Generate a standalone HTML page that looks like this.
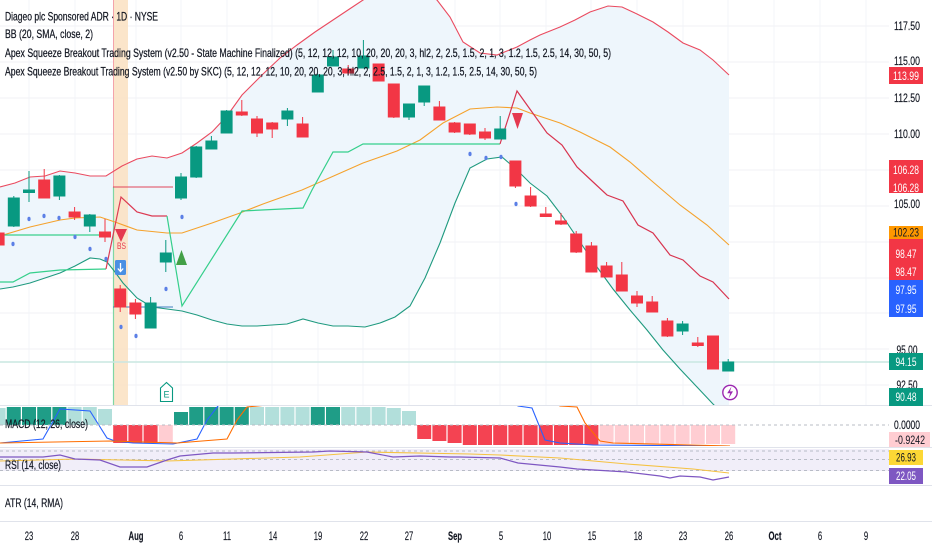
<!DOCTYPE html>
<html><head><meta charset="utf-8">
<style>
html,body{margin:0;padding:0;background:#fff;}
svg{display:block;font-family:"Liberation Sans",sans-serif;}
</style></head><body>
<svg width="932" height="550" viewBox="0 0 932 550" xmlns="http://www.w3.org/2000/svg">
<defs>
<clipPath id="main"><rect x="0" y="0" width="889" height="405"/></clipPath>
<clipPath id="macd"><rect x="0" y="406" width="889" height="40"/></clipPath>
</defs>
<rect width="932" height="550" fill="#fff"/>

<!-- grid -->
<g stroke="#f0f2f6" stroke-width="1">
<line x1="0" y1="26" x2="889" y2="26"/><line x1="0" y1="62" x2="889" y2="62"/><line x1="0" y1="98" x2="889" y2="98"/>
<line x1="0" y1="134" x2="889" y2="134"/><line x1="0" y1="170" x2="889" y2="170"/><line x1="0" y1="206" x2="889" y2="206"/>
<line x1="0" y1="242" x2="889" y2="242"/><line x1="0" y1="278" x2="889" y2="278"/><line x1="0" y1="313" x2="889" y2="313"/>
<line x1="0" y1="349" x2="889" y2="349"/><line x1="0" y1="385" x2="889" y2="385"/>
</g>
<g stroke="#f3f4f8" stroke-width="1">
<line x1="29" y1="0" x2="29" y2="405"/><line x1="75" y1="0" x2="75" y2="405"/><line x1="136" y1="0" x2="136" y2="405"/>
<line x1="181" y1="0" x2="181" y2="405"/><line x1="227" y1="0" x2="227" y2="405"/><line x1="272" y1="0" x2="272" y2="405"/>
<line x1="318" y1="0" x2="318" y2="405"/><line x1="363" y1="0" x2="363" y2="405"/><line x1="409" y1="0" x2="409" y2="405"/>
<line x1="455" y1="0" x2="455" y2="405"/><line x1="500" y1="0" x2="500" y2="405"/><line x1="546" y1="0" x2="546" y2="405"/>
<line x1="591" y1="0" x2="591" y2="405"/><line x1="637" y1="0" x2="637" y2="405"/><line x1="683" y1="0" x2="683" y2="405"/>
<line x1="728" y1="0" x2="728" y2="405"/><line x1="774" y1="0" x2="774" y2="405"/><line x1="820" y1="0" x2="820" y2="405"/>
<line x1="866" y1="0" x2="866" y2="405"/>
</g>

<g clip-path="url(#main)">
<polygon fill="#eef6fc" points="0,187 15,183 30,177 45,176 60,171 75,173 90,176 106,176 122,166 137,159 152,156 167,158 182,153 197,143 212,132 227,116 242,95 263,74 280,58 297,45 315,32 330,22 348,10 363,0 378,-8 394,-12 409,-13 424,-8 437,0 450,17 463,42 480,53 497,55 517,47 530,40 540,35 560,27 575,20 590,12 608,6 622,7 637,14 653,22 668,32 683,43 700,50 713,60 729,75 729,420 713,404 697,387 680,369 663,350 647,330 630,310 613,289 597,267 580,242 563,217 547,196 530,183 517,170 502,157 487,159 470,168 455,203 440,243 425,278 410,306 395,317 380,323 365,327 348,326 333,326 318,323 303,319 287,324 272,325 257,326 242,326 227,324 212,320 197,315 182,311 167,309 152,307 137,298 123,283 115,272 107,262 100,259 90,258 75,266 60,273 45,278 30,283 13,287 0,289"/>
<rect x="114" y="0" width="14" height="405" fill="#fbe2c4" opacity="0.9"/>
<line x1="113.5" y1="0" x2="113.5" y2="187" stroke="#f3a3ab" stroke-width="1"/>
<line x1="113.5" y1="187" x2="113.5" y2="405" stroke="#7fd6a4" stroke-width="1.2"/>

<line x1="0" y1="362" x2="889" y2="362" stroke="#c9e7e1" stroke-width="1.5"/>

<polyline fill="none" stroke="#ea4a5f" stroke-width="1.1" points="0,187 15,183 30,177 45,176 60,171 75,173 90,176 106,176 122,166 137,159 152,156 167,158 182,153 197,143 212,132 227,116 242,95 263,74 280,58 297,45 315,32 330,22 348,10 363,0 378,-8 394,-12 409,-13 424,-8 437,0 450,17 463,42 480,53 497,55 517,47 530,40 540,35 560,27 575,20 590,12 608,6 622,7 637,14 653,22 668,32 683,43 700,50 713,60 729,75"/>
<polyline fill="none" stroke="#f5a22c" stroke-width="1.1" points="0,236 30,227 60,220 75,218 100,217 115,222 137,230 167,233 182,233 212,223 240,213 263,204 302,190 363,163 397,151 420,140 443,123 470,109 497,107 517,108 530,113 560,123 580,132 610,147 630,162 653,182 680,205 707,225 729,245"/>
<polyline fill="none" stroke="#1f9a7f" stroke-width="1.1" points="0,289 13,287 30,283 45,278 60,273 75,266 90,258 100,259 107,262 115,272 123,283 137,298 152,307 167,309 182,311 197,315 212,320 227,324 242,326 257,326 272,325 287,324 303,319 318,323 333,326 348,326 365,327 380,323 395,317 410,306 425,278 440,243 455,203 470,168 487,159 502,157 517,170 530,183 547,196 563,217 580,242 597,267 613,289 630,310 647,330 663,350 680,369 697,387 713,404 729,420"/>

<line x1="3" y1="235" x2="101" y2="235" stroke="#3ad08c" stroke-width="1.2"/>
<line x1="113" y1="187" x2="173" y2="187" stroke="#e0455a" stroke-width="1.1"/>
<line x1="113" y1="307" x2="173" y2="307" stroke="#3f7fbf" stroke-width="1.1"/>
<polyline fill="none" stroke="#35cf8b" stroke-width="1.2" points="0,282 13,282 30,273 60,270 106,269"/>
<polyline fill="none" stroke="#dc3b53" stroke-width="1.2" points="106,269 121,197 137,212 152,216 167,216"/>
<polyline fill="none" stroke="#35cf8b" stroke-width="1.2" points="167,216 182,306 242,211 303,208 312,190 333,152 348,152 363,144 500,144"/>
<polyline fill="none" stroke="#d8344f" stroke-width="1.2" points="500,144 517,91 547,133 562,145 577,167 592,181 607,195 623,201 638,225 653,233 670,255 683,260 700,276 713,282 729,299"/>

<g stroke-width="1">
<g stroke="#f23645" fill="#f23645">
<line x1="-1.4" y1="230" x2="-1.4" y2="248"/><rect x="-6.9" y="233" width="11" height="12"/>
<line x1="44.2" y1="169" x2="44.2" y2="198"/><rect x="38.7" y="180" width="11" height="18"/>
<line x1="74.6" y1="207" x2="74.6" y2="220"/><rect x="69.1" y="212" width="11" height="5"/>
<line x1="105" y1="219" x2="105" y2="242"/><rect x="99.5" y="232" width="11" height="5"/>
<line x1="120.2" y1="285" x2="120.2" y2="312"/><rect x="114.7" y="289" width="11" height="18"/>
<line x1="135.4" y1="299" x2="135.4" y2="319"/><rect x="129.9" y="303" width="11" height="11"/>
<line x1="241.8" y1="100" x2="241.8" y2="116"/><rect x="236.3" y="112" width="11" height="3"/>
<line x1="257" y1="116" x2="257" y2="137"/><rect x="251.5" y="119" width="11" height="14"/>
<line x1="272.2" y1="122" x2="272.2" y2="138"/><rect x="266.7" y="123" width="11" height="6"/>
<line x1="302.6" y1="117" x2="302.6" y2="137"/><rect x="297.1" y="124" width="11" height="13"/>
<line x1="348.2" y1="65" x2="348.2" y2="75"/><rect x="342.7" y="69" width="11" height="4"/>
<line x1="378.6" y1="64" x2="378.6" y2="81"/><rect x="373.1" y="64" width="11" height="17"/>
<line x1="393.8" y1="84" x2="393.8" y2="118"/><rect x="388.3" y="84" width="11" height="33"/>
<line x1="439.4" y1="101" x2="439.4" y2="120"/><rect x="433.9" y="107" width="11" height="13"/>
<line x1="454.6" y1="122" x2="454.6" y2="133"/><rect x="449.1" y="123" width="11" height="9"/>
<line x1="469.8" y1="124" x2="469.8" y2="135"/><rect x="464.3" y="124" width="11" height="10"/>
<line x1="485" y1="128" x2="485" y2="140"/><rect x="479.5" y="132" width="11" height="6"/>
<line x1="515.4" y1="161" x2="515.4" y2="188"/><rect x="509.9" y="161" width="11" height="25"/>
<line x1="530.6" y1="187" x2="530.6" y2="207"/><rect x="525.1" y="196" width="11" height="10"/>
<line x1="545.8" y1="207" x2="545.8" y2="217"/><rect x="540.3" y="214" width="11" height="2.5"/>
<line x1="561" y1="213" x2="561" y2="225"/><rect x="555.5" y="221" width="11" height="3"/>
<line x1="576.2" y1="231" x2="576.2" y2="253"/><rect x="570.7" y="234" width="11" height="18"/>
<line x1="591.4" y1="242" x2="591.4" y2="272"/><rect x="585.9" y="246" width="11" height="26"/>
<line x1="606.6" y1="262" x2="606.6" y2="277"/><rect x="601.1" y="266" width="11" height="11"/>
<line x1="621.8" y1="262" x2="621.8" y2="291"/><rect x="616.3" y="275" width="11" height="16"/>
<line x1="637" y1="291" x2="637" y2="307"/><rect x="631.5" y="296" width="11" height="7"/>
<line x1="652.2" y1="296" x2="652.2" y2="312"/><rect x="646.7" y="302" width="11" height="10"/>
<line x1="667.4" y1="318" x2="667.4" y2="337"/><rect x="661.9" y="321" width="11" height="15"/>
<line x1="697.8" y1="337" x2="697.8" y2="347"/><rect x="692.3" y="343" width="11" height="2.5"/>
<line x1="713" y1="336" x2="713" y2="369"/><rect x="707.5" y="336" width="11" height="33"/>
</g>
<g stroke="#089981" fill="#089981">
<line x1="13.8" y1="196" x2="13.8" y2="227"/><rect x="8.3" y="198" width="11" height="28"/>
<line x1="29" y1="171" x2="29" y2="202"/><rect x="23.5" y="190" width="11" height="2.5"/>
<line x1="59.4" y1="175" x2="59.4" y2="200"/><rect x="53.9" y="176" width="11" height="20"/>
<line x1="89.8" y1="214" x2="89.8" y2="232"/><rect x="84.3" y="215" width="11" height="11"/>
<line x1="150.6" y1="297" x2="150.6" y2="328"/><rect x="145.1" y="303" width="11" height="25"/>
<line x1="165.8" y1="240" x2="165.8" y2="272"/><rect x="160.3" y="253" width="11" height="9"/>
<line x1="181" y1="173" x2="181" y2="200"/><rect x="175.5" y="177" width="11" height="21"/>
<line x1="196.2" y1="146" x2="196.2" y2="178"/><rect x="190.7" y="147" width="11" height="30"/>
<line x1="211.4" y1="136" x2="211.4" y2="149"/><rect x="205.9" y="141" width="11" height="8"/>
<line x1="226.6" y1="110" x2="226.6" y2="133"/><rect x="221.1" y="111" width="11" height="22"/>
<line x1="287.4" y1="108" x2="287.4" y2="126"/><rect x="281.9" y="111" width="11" height="8"/>
<line x1="317.8" y1="74" x2="317.8" y2="92"/><rect x="312.3" y="75" width="11" height="17"/>
<line x1="333" y1="50" x2="333" y2="66"/><rect x="327.5" y="57" width="11" height="9"/>
<line x1="363.4" y1="40" x2="363.4" y2="68"/><rect x="357.9" y="56" width="11" height="12"/>
<line x1="409" y1="104" x2="409" y2="120"/><rect x="403.5" y="104" width="11" height="13"/>
<line x1="424.2" y1="86" x2="424.2" y2="106"/><rect x="418.7" y="86" width="11" height="16"/>
<line x1="500.2" y1="116" x2="500.2" y2="139"/><rect x="494.7" y="129" width="11" height="10"/>
<line x1="682.6" y1="321" x2="682.6" y2="335"/><rect x="677.1" y="324" width="11" height="7"/>
<line x1="728.2" y1="359" x2="728.2" y2="371"/><rect x="722.7" y="362" width="11" height="9"/>
</g>
</g>

<g fill="#5b7fe6">
<ellipse cx="13" cy="244" rx="1.6" ry="2.2"/><ellipse cx="29" cy="219" rx="1.6" ry="2.2"/><ellipse cx="44" cy="216" rx="1.6" ry="2.2"/>
<ellipse cx="59" cy="218" rx="1.6" ry="2.2"/><ellipse cx="75" cy="237" rx="1.6" ry="2.2"/><ellipse cx="90" cy="249" rx="1.6" ry="2.2"/>
<ellipse cx="106" cy="259" rx="1.6" ry="2.2"/><ellipse cx="121" cy="327" rx="1.6" ry="2.2"/><ellipse cx="136" cy="336" rx="1.6" ry="2.2"/>
<ellipse cx="166" cy="289" rx="1.6" ry="2.2"/><ellipse cx="182" cy="217" rx="1.6" ry="2.2"/><ellipse cx="470" cy="154" rx="1.6" ry="2.2"/>
<ellipse cx="486" cy="158" rx="1.6" ry="2.2"/><ellipse cx="501" cy="157" rx="1.6" ry="2.2"/><ellipse cx="516" cy="204" rx="1.6" ry="2.2"/>
</g>

<polygon points="115,229 127,229 121,242" fill="#e5394f"/>
<text x="121.5" y="249" font-size="9.5" fill="#e5394f" text-anchor="middle" textLength="9" lengthAdjust="spacingAndGlyphs">BS</text>
<rect x="115" y="260" width="11" height="15" rx="1.5" fill="#4a8fe3"/>
<path d="M120.5,263 L120.5,271 M117.8,268.5 L120.5,271.5 L123.2,268.5" stroke="#fff" stroke-width="1.3" fill="none"/>
<polygon points="176,265 187,265 181.5,250" fill="#43a047"/>
<polygon points="512,113 523,113 517.5,129" fill="#e5394f"/>
<polygon points="160.5,388 166.5,382.5 172.5,388 172.5,401.5 160.5,401.5" fill="#fff" stroke="#089981" stroke-width="1.1"/>
<text x="166.5" y="397.5" font-size="9" fill="#089981" text-anchor="middle">E</text>
<circle cx="730" cy="392.5" r="7.2" fill="#fff" stroke="#9c27b0" stroke-width="1.4"/>
<path d="M731.5,386.5 L727.2,393.3 L730.2,393.3 L728.6,398.5 L733,391.4 L730,391.4 Z" fill="#9c27b0"/>
</g>

<g stroke="#e0e3eb" stroke-width="1">
<line x1="0" y1="405.5" x2="932" y2="405.5"/>
<line x1="0" y1="447.5" x2="932" y2="447.5"/>
<line x1="0" y1="485.5" x2="932" y2="485.5"/>
<line x1="0" y1="521.5" x2="932" y2="521.5"/>
</g>

<g clip-path="url(#macd)">
<g fill="#b2dfdb">
<rect x="-8.4" y="408" width="14" height="17"/><rect x="67.6" y="407" width="14" height="18"/><rect x="82.8" y="407" width="14" height="18"/>
<rect x="98" y="409" width="14" height="16"/><rect x="250" y="407" width="14" height="18"/><rect x="265.2" y="407" width="14" height="18"/>
<rect x="280.4" y="407" width="14" height="18"/><rect x="295.6" y="407" width="14" height="18"/><rect x="341.2" y="407" width="14" height="18"/>
<rect x="356.4" y="407" width="14" height="18"/><rect x="371.6" y="407" width="14" height="18"/><rect x="386.8" y="408" width="14" height="17"/>
<rect x="402" y="411" width="14" height="14"/>
</g>
<g fill="#1f9d87">
<rect x="6.8" y="407" width="14" height="18"/><rect x="22" y="407" width="14" height="18"/><rect x="37.2" y="407" width="14" height="18"/>
<rect x="52.4" y="407" width="14" height="18"/><rect x="174" y="412" width="14" height="13"/><rect x="189.2" y="407" width="14" height="18"/>
<rect x="204.4" y="407" width="14" height="18"/><rect x="219.6" y="407" width="14" height="18"/><rect x="234.8" y="407" width="14" height="18"/>
<rect x="310.8" y="407" width="14" height="18"/><rect x="326" y="407" width="14" height="18"/>
</g>
<g fill="#f44352">
<rect x="113.2" y="425" width="14" height="18"/><rect x="128.4" y="425" width="14" height="18"/><rect x="143.6" y="425" width="14" height="18"/>
<rect x="417.2" y="425" width="14" height="14"/><rect x="432.4" y="425" width="14" height="16"/><rect x="447.6" y="425" width="14" height="18"/>
<rect x="462.8" y="425" width="14" height="20"/><rect x="478" y="425" width="14" height="20"/><rect x="493.2" y="425" width="14" height="20"/>
<rect x="508.4" y="425" width="14" height="20"/><rect x="523.6" y="425" width="14" height="20"/><rect x="538.8" y="425" width="14" height="20"/>
<rect x="554" y="425" width="14" height="20"/><rect x="569.2" y="425" width="14" height="20"/><rect x="584.4" y="425" width="14" height="20"/>
</g>
<g fill="#ffcdd2">
<rect x="158.8" y="425" width="14" height="18"/>
<rect x="599.6" y="425" width="14" height="19"/><rect x="614.8" y="425" width="14" height="19"/><rect x="630" y="425" width="14" height="19"/>
<rect x="645.2" y="425" width="14" height="19"/><rect x="660.4" y="425" width="14" height="19"/><rect x="675.6" y="425" width="14" height="19"/>
<rect x="690.8" y="425" width="14" height="19"/><rect x="706" y="425" width="14" height="19"/><rect x="721.2" y="425" width="14" height="19"/>
</g>
<polyline fill="none" stroke="#2962ff" stroke-width="1.1" points="0,443 43,439 60,409 90,411 107,438 115,441 133,443 173,444 197,439 207,420 218,406 225,395 505,395 518,406 532,408 545,440 560,443 593,445 730,446"/>
<polyline fill="none" stroke="#ff6d00" stroke-width="1.1" points="0,443 110,441 177,443 227,439 237,420 247,407 267,405 290,398 545,398 560,406 577,407 585,423 600,441 613,443 730,446"/>
</g>
<line x1="0" y1="425" x2="889" y2="425" stroke="#b8bcc6" stroke-width="1" stroke-dasharray="3,3"/>

<rect x="0" y="449" width="889" height="22" fill="#f1eef9"/>
<g stroke="#b8bcc6" stroke-width="1" stroke-dasharray="3,3">
<line x1="0" y1="451" x2="889" y2="451"/>
<line x1="0" y1="459.5" x2="889" y2="459.5"/>
<line x1="0" y1="470.5" x2="889" y2="470.5"/>
</g>
<polyline fill="none" stroke="#f5c242" stroke-width="1.1" points="0,461 77,459 167,461 300,457 367,452 470,454 500,455 560,458 627,464 693,469 729,473"/>
<polyline fill="none" stroke="#7e57c2" stroke-width="1.2" points="0,457 43,457 60,455 75,459 100,460 120,467 147,467 167,460 180,456 213,453 233,453 313,452 330,451 367,452 393,457 420,456 450,457 460,457 500,458 518,463 560,467 577,469 627,472 660,476 670,478 680,476 700,477 713,480 729,477"/>

<g font-size="12" fill="#131722" stroke="#131722" stroke-width="0.25">
<text x="5" y="20.5" textLength="153" lengthAdjust="spacingAndGlyphs">Diageo plc Sponsored ADR · 1D · NYSE</text>
<text x="5" y="38" textLength="88" lengthAdjust="spacingAndGlyphs">BB (20, SMA, close, 2)</text>
<text x="5" y="57" textLength="606" lengthAdjust="spacingAndGlyphs">Apex Squeeze Breakout Trading System (v2.50 - State Machine Finalized) (5, 12, 12, 12, 10, 20, 20, 20, 3, hl2, 2, 2.5, 1.5, 2, 1, 3, 1.2, 1.5, 2.5, 14, 30, 50, 5)</text>
<text x="5" y="75.5" textLength="532" lengthAdjust="spacingAndGlyphs">Apex Squeeze Breakout Trading System (v2.50 by SKC) (5, 12, 12, 12, 10, 20, 20, 20, 3, hl2, 2, 2.5, 1.5, 2, 1, 3, 1.2, 1.5, 2.5, 14, 30, 50, 5)</text>
</g>
<g font-size="11.5" fill="#131722" stroke="#131722" stroke-width="0.2">
<text x="5" y="428" textLength="83" lengthAdjust="spacingAndGlyphs">MACD (12, 26, close)</text>
<text x="5" y="469" textLength="56" lengthAdjust="spacingAndGlyphs">RSI (14, close)</text>
<text x="5" y="507" textLength="58" lengthAdjust="spacingAndGlyphs">ATR (14, RMA)</text>
</g>

<g font-size="12" text-anchor="middle">
<g fill="#131722" stroke="#131722" stroke-width="0.15">
<text x="907" y="30" textLength="26" lengthAdjust="spacingAndGlyphs">117.50</text>
<text x="907" y="65" textLength="26" lengthAdjust="spacingAndGlyphs">115.00</text>
<text x="907" y="102" textLength="26" lengthAdjust="spacingAndGlyphs">112.50</text>
<text x="907" y="138" textLength="26" lengthAdjust="spacingAndGlyphs">110.00</text>
<text x="907" y="208" textLength="26" lengthAdjust="spacingAndGlyphs">105.00</text>
<text x="907" y="354" textLength="21" lengthAdjust="spacingAndGlyphs">95.00</text>
<text x="907" y="389" textLength="21" lengthAdjust="spacingAndGlyphs">92.50</text>
<text x="907" y="429" textLength="26" lengthAdjust="spacingAndGlyphs">0.0000</text>
</g>
<rect x="889" y="67" width="34" height="17" fill="#f23645"/>
<text x="906" y="80" fill="#fff" textLength="26" lengthAdjust="spacingAndGlyphs">113.99</text>
<rect x="889" y="160" width="34" height="33" fill="#f23645"/>
<text x="906" y="174" fill="#fff" textLength="26" lengthAdjust="spacingAndGlyphs">106.28</text>
<text x="906" y="192" fill="#fff" textLength="26" lengthAdjust="spacingAndGlyphs">106.28</text>
<rect x="889" y="226" width="34" height="13" fill="#ff9800"/>
<text x="906" y="236.5" fill="#131722" textLength="26" lengthAdjust="spacingAndGlyphs">102.23</text>
<rect x="889" y="239" width="34" height="41" fill="#f23645"/>
<text x="906" y="258" fill="#fff" textLength="21" lengthAdjust="spacingAndGlyphs">98.47</text>
<text x="906" y="276" fill="#fff" textLength="21" lengthAdjust="spacingAndGlyphs">98.47</text>
<rect x="889" y="280" width="34" height="37" fill="#2962ff"/>
<text x="906" y="294" fill="#fff" textLength="21" lengthAdjust="spacingAndGlyphs">97.95</text>
<text x="906" y="313" fill="#fff" textLength="21" lengthAdjust="spacingAndGlyphs">97.95</text>
<rect x="889" y="353" width="34" height="17" fill="#089981"/>
<text x="906" y="366" fill="#fff" textLength="21" lengthAdjust="spacingAndGlyphs">94.15</text>
<rect x="889" y="388" width="34" height="18" fill="#089981"/>
<text x="906" y="401" fill="#fff" textLength="21" lengthAdjust="spacingAndGlyphs">90.48</text>
<rect x="889" y="432" width="41" height="15" fill="#ffcdd2"/>
<text x="910" y="444" fill="#131722" textLength="30" lengthAdjust="spacingAndGlyphs">-0.9242</text>
<rect x="889" y="450" width="34" height="15" fill="#fdd835"/>
<text x="906" y="461.5" fill="#131722" textLength="20" lengthAdjust="spacingAndGlyphs">26.93</text>
<rect x="889" y="468" width="34" height="16" fill="#7e57c2"/>
<text x="906" y="480" fill="#fff" textLength="20" lengthAdjust="spacingAndGlyphs">22.05</text>
</g>

<g font-size="12" fill="#131722" text-anchor="middle" stroke="#131722" stroke-width="0.15">
<text x="29" y="540" textLength="8.5" lengthAdjust="spacingAndGlyphs">23</text>
<text x="75" y="540" textLength="8.5" lengthAdjust="spacingAndGlyphs">28</text>
<text x="136" y="540" font-weight="bold" textLength="15" lengthAdjust="spacingAndGlyphs">Aug</text>
<text x="181" y="540" textLength="4.3" lengthAdjust="spacingAndGlyphs">6</text>
<text x="227" y="540" textLength="8" lengthAdjust="spacingAndGlyphs">11</text>
<text x="273" y="540" textLength="8.5" lengthAdjust="spacingAndGlyphs">14</text>
<text x="318" y="540" textLength="8.5" lengthAdjust="spacingAndGlyphs">19</text>
<text x="364" y="540" textLength="8.5" lengthAdjust="spacingAndGlyphs">22</text>
<text x="409" y="540" textLength="8.5" lengthAdjust="spacingAndGlyphs">27</text>
<text x="455" y="540" font-weight="bold" textLength="14" lengthAdjust="spacingAndGlyphs">Sep</text>
<text x="501" y="540" textLength="4.3" lengthAdjust="spacingAndGlyphs">5</text>
<text x="547" y="540" textLength="8.5" lengthAdjust="spacingAndGlyphs">10</text>
<text x="592" y="540" textLength="8.5" lengthAdjust="spacingAndGlyphs">15</text>
<text x="638" y="540" textLength="8.5" lengthAdjust="spacingAndGlyphs">18</text>
<text x="683" y="540" textLength="8.5" lengthAdjust="spacingAndGlyphs">23</text>
<text x="729" y="540" textLength="8.5" lengthAdjust="spacingAndGlyphs">26</text>
<text x="775" y="540" font-weight="bold" textLength="13" lengthAdjust="spacingAndGlyphs">Oct</text>
<text x="820" y="540" textLength="4.3" lengthAdjust="spacingAndGlyphs">6</text>
<text x="866" y="540" textLength="4.3" lengthAdjust="spacingAndGlyphs">9</text>
</g>
</svg>
</body></html>
